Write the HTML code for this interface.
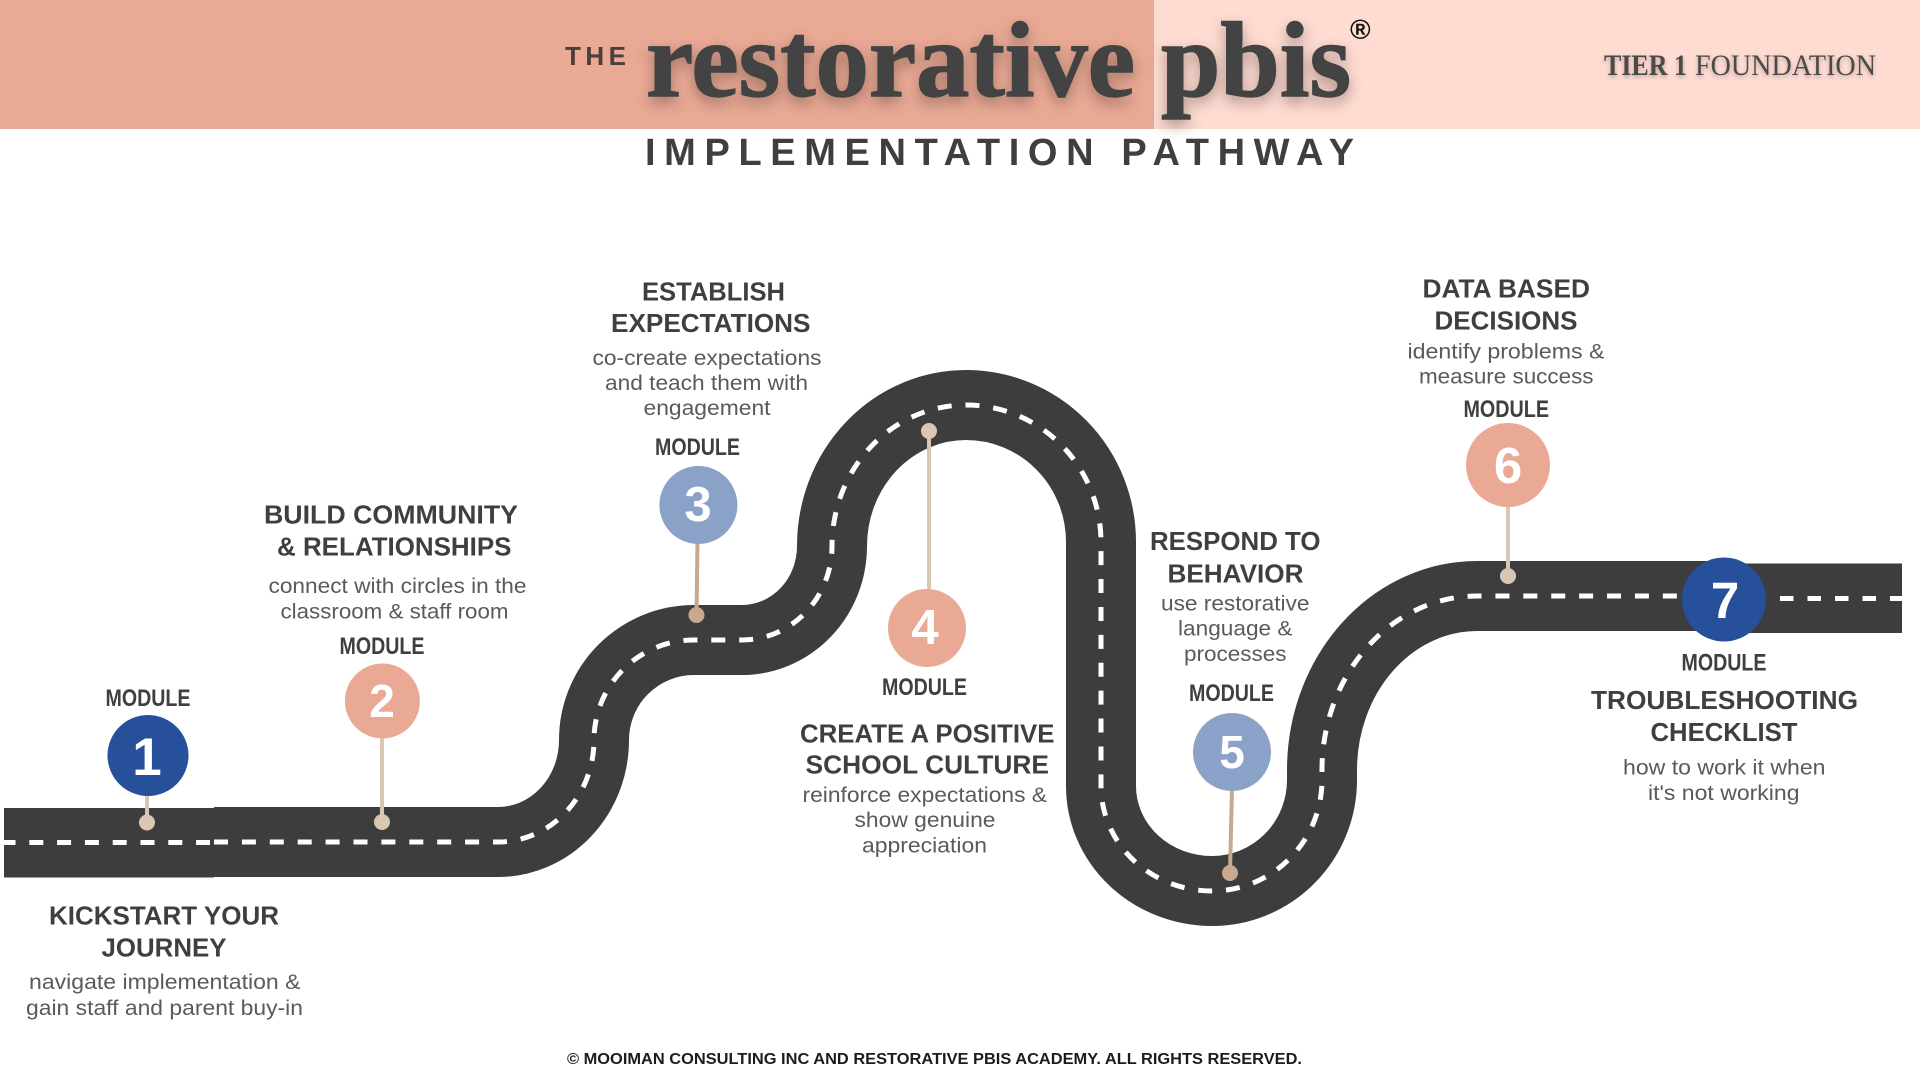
<!DOCTYPE html>
<html><head><meta charset="utf-8"><title>Implementation Pathway</title>
<style>
html,body{margin:0;padding:0;background:#fff}
svg{display:block}
text{font-family:"Liberation Sans",sans-serif}
.h{font-size:25.5px;font-weight:700;fill:#3f3f3f}
.s{font-size:21px;fill:#5a5a5a}
.m{font-size:24px;font-weight:700;fill:#3f3f3f}
.d{font-weight:700;fill:#fff;text-anchor:middle}
.serif{font-family:"Liberation Serif",serif}
</style></head><body>
<svg width="1920" height="1080" viewBox="0 0 1920 1080" xmlns="http://www.w3.org/2000/svg">
<rect width="1920" height="1080" fill="#fff"/>
<rect x="0" y="0" width="1154" height="129" fill="#e9a994"/>
<rect x="1154" y="0" width="766" height="129" fill="#fedcd2"/>

<g style="filter:drop-shadow(0 6px 7px rgba(60,40,35,.4))">
<text class="serif" x="646" y="96" font-size="107" font-weight="700" fill="#434343" stroke="#434343" stroke-width="1.4" textLength="489" lengthAdjust="spacingAndGlyphs">restorative</text>
<text class="serif" x="1161" y="96" font-size="107" font-weight="700" fill="#434343" stroke="#434343" stroke-width="1.4" textLength="190" lengthAdjust="spacingAndGlyphs">pbis</text>
</g>
<text x="565" y="65" font-size="26" font-weight="700" fill="#4a3f3c" textLength="61" lengthAdjust="spacing">THE</text>
<text x="1350" y="39" font-size="28" font-weight="700" fill="#111">®</text>
<g style="filter:drop-shadow(0 2px 2px rgba(60,40,35,.35))">
<text class="serif" x="1604" y="75" font-size="30" font-weight="700" fill="#4a4a4a" textLength="83" lengthAdjust="spacingAndGlyphs">TIER 1</text>
<text class="serif" x="1695" y="75" font-size="30" fill="#4a4a4a" textLength="181" lengthAdjust="spacingAndGlyphs">FOUNDATION</text>
</g>
<text x="645" y="165" font-size="38" font-weight="700" fill="#3f3f3f" textLength="709" lengthAdjust="spacing">IMPLEMENTATION PATHWAY</text>

<!-- road -->
<rect x="4" y="808" width="210" height="69.5" fill="#3d3d3d"/>
<path d="M214 842 H498 A96 102 0 0 0 594 740 A100 100 0 0 1 694 640 H742 A90 94 0 0 0 832 546 A134 141 0 0 1 966 405 A135 137 0 0 1 1101 542 V786 A111 105 0 0 0 1212 891 A110 111 0 0 0 1322 780 V770 A155 174 0 0 1 1477 596 H1724" fill="none" stroke="#3d3d3d" stroke-width="70"/>
<rect x="1724" y="563.5" width="178" height="69.5" fill="#3d3d3d"/>
<path d="M4 842.5 H210" fill="none" stroke="#fff" stroke-width="5" stroke-dasharray="14 13.8" stroke-dashoffset="2.5"/>
<path d="M214 842 H498 A96 102 0 0 0 594 740 A100 100 0 0 1 694 640 H742 A90 94 0 0 0 832 546 A134 141 0 0 1 966 405 A135 137 0 0 1 1101 542 V786 A111 105 0 0 0 1212 891 A110 111 0 0 0 1322 780 V770 A155 174 0 0 1 1477 596 H1700" fill="none" stroke="#fff" stroke-width="5" stroke-dasharray="14 13.9"/>
<path d="M1780 598.5 H1902" fill="none" stroke="#fff" stroke-width="5" stroke-dasharray="13.5 14"/>

<!-- pins -->
<g stroke-width="4">
<line x1="147" y1="790" x2="147" y2="822" stroke="#d9c6b3"/>
<line x1="382" y1="735" x2="382" y2="822" stroke="#d9c6b3"/>
<line x1="697.5" y1="540" x2="696.5" y2="615" stroke="#c8a98f"/>
<line x1="929" y1="430" x2="929" y2="592" stroke="#d9c6b3"/>
<line x1="1232" y1="788" x2="1230" y2="873" stroke="#c8a98f"/>
<line x1="1508" y1="503" x2="1508" y2="576" stroke="#d9c6b3"/>
</g>
<circle cx="147" cy="822.5" r="8" fill="#d9c6b3"/>
<circle cx="382" cy="822" r="8" fill="#d9c6b3"/>
<circle cx="696.5" cy="615" r="8" fill="#c8a98f"/>
<circle cx="929" cy="431" r="8" fill="#d9c6b3"/>
<circle cx="1230" cy="873" r="8" fill="#c8a98f"/>
<circle cx="1508" cy="576" r="8" fill="#d9c6b3"/>

<circle cx="148" cy="755.5" r="40.5" fill="#27509b"/>
<circle cx="382.4" cy="701" r="37.5" fill="#e9a994"/>
<circle cx="698.4" cy="505" r="39" fill="#8aa2c7"/>
<circle cx="927" cy="628" r="39" fill="#e9a994"/>
<circle cx="1232" cy="752" r="39" fill="#8aa2c7"/>
<circle cx="1508" cy="465" r="42" fill="#e9a994"/>
<circle cx="1724" cy="599.5" r="42" fill="#27509b"/>

<text class="d" x="147" y="775" font-size="53">1</text>
<text class="d" x="382" y="717" font-size="46">2</text>
<text class="d" x="698" y="521" font-size="49">3</text>
<text class="d" x="925" y="644" font-size="49">4</text>
<text class="d" x="1232" y="768" font-size="46">5</text>
<text class="d" x="1508" y="483" font-size="51">6</text>
<text class="d" x="1725" y="618" font-size="51">7</text>

<!-- MODULE labels -->
<text class="m" x="105.5" y="706" textLength="85" lengthAdjust="spacingAndGlyphs">MODULE</text>
<text class="m" x="339.5" y="654" textLength="85" lengthAdjust="spacingAndGlyphs">MODULE</text>
<text class="m" x="655" y="455" textLength="85" lengthAdjust="spacingAndGlyphs">MODULE</text>
<text class="m" x="882" y="695" textLength="85" lengthAdjust="spacingAndGlyphs">MODULE</text>
<text class="m" x="1189" y="701" textLength="85" lengthAdjust="spacingAndGlyphs">MODULE</text>
<text class="m" x="1463.5" y="417" textLength="85.5" lengthAdjust="spacingAndGlyphs">MODULE</text>
<text class="m" x="1681.5" y="670.7" textLength="85" lengthAdjust="spacingAndGlyphs">MODULE</text>

<!-- headings -->
<text class="h" x="49" y="924.5" textLength="230" lengthAdjust="spacingAndGlyphs">KICKSTART YOUR</text>
<text class="h" x="101.5" y="956.5" textLength="125" lengthAdjust="spacingAndGlyphs">JOURNEY</text>
<text class="h" x="264" y="523.5" textLength="254" lengthAdjust="spacingAndGlyphs">BUILD COMMUNITY</text>
<text class="h" x="277" y="555.5" textLength="234.5" lengthAdjust="spacingAndGlyphs">&amp; RELATIONSHIPS</text>
<text class="h" x="642" y="300.5" textLength="143" lengthAdjust="spacingAndGlyphs">ESTABLISH</text>
<text class="h" x="611" y="332.2" textLength="199.5" lengthAdjust="spacingAndGlyphs">EXPECTATIONS</text>
<text class="h" x="800" y="742.5" textLength="254.5" lengthAdjust="spacingAndGlyphs">CREATE A POSITIVE</text>
<text class="h" x="805.5" y="773.5" textLength="243.5" lengthAdjust="spacingAndGlyphs">SCHOOL CULTURE</text>
<text class="h" x="1150" y="550" textLength="170.5" lengthAdjust="spacingAndGlyphs">RESPOND TO</text>
<text class="h" x="1167.5" y="582.5" textLength="136" lengthAdjust="spacingAndGlyphs">BEHAVIOR</text>
<text class="h" x="1422.5" y="297.5" textLength="167.5" lengthAdjust="spacingAndGlyphs">DATA BASED</text>
<text class="h" x="1434.5" y="329.5" textLength="143" lengthAdjust="spacingAndGlyphs">DECISIONS</text>
<text class="h" x="1591" y="709.2" textLength="267" lengthAdjust="spacingAndGlyphs">TROUBLESHOOTING</text>
<text class="h" x="1650.5" y="741" textLength="147" lengthAdjust="spacingAndGlyphs">CHECKLIST</text>

<!-- sub text -->
<text class="s" x="29" y="989" textLength="271.5" lengthAdjust="spacingAndGlyphs">navigate implementation &amp;</text>
<text class="s" x="26" y="1015" textLength="277" lengthAdjust="spacingAndGlyphs">gain staff and parent buy-in</text>
<text class="s" x="268.5" y="593" textLength="258" lengthAdjust="spacingAndGlyphs">connect with circles in the</text>
<text class="s" x="280.5" y="618.5" textLength="228" lengthAdjust="spacingAndGlyphs">classroom &amp; staff room</text>
<text class="s" x="592.5" y="365" textLength="229" lengthAdjust="spacingAndGlyphs">co-create expectations</text>
<text class="s" x="605" y="390" textLength="203" lengthAdjust="spacingAndGlyphs">and teach them with</text>
<text class="s" x="643.5" y="415" textLength="127" lengthAdjust="spacingAndGlyphs">engagement</text>
<text class="s" x="802.5" y="802" textLength="244.5" lengthAdjust="spacingAndGlyphs">reinforce expectations &amp;</text>
<text class="s" x="854.5" y="827" textLength="141" lengthAdjust="spacingAndGlyphs">show genuine</text>
<text class="s" x="862" y="852.6" textLength="125" lengthAdjust="spacingAndGlyphs">appreciation</text>
<text class="s" x="1161" y="610.4" textLength="148.5" lengthAdjust="spacingAndGlyphs">use restorative</text>
<text class="s" x="1178" y="635.5" textLength="114.5" lengthAdjust="spacingAndGlyphs">language &amp;</text>
<text class="s" x="1184" y="661" textLength="102.5" lengthAdjust="spacingAndGlyphs">processes</text>
<text class="s" x="1407.5" y="358.4" textLength="197" lengthAdjust="spacingAndGlyphs">identify problems &amp;</text>
<text class="s" x="1419" y="383.6" textLength="174.5" lengthAdjust="spacingAndGlyphs">measure success</text>
<text class="s" x="1623" y="774.3" textLength="202.5" lengthAdjust="spacingAndGlyphs">how to work it when</text>
<text class="s" x="1648" y="800" textLength="151.5" lengthAdjust="spacingAndGlyphs">it's not working</text>

<text x="567" y="1064" font-size="15.5" font-weight="700" fill="#1c1c1c" textLength="735" lengthAdjust="spacingAndGlyphs">© MOOIMAN CONSULTING INC AND RESTORATIVE PBIS ACADEMY. ALL RIGHTS RESERVED.</text>
</svg>
</body></html>
